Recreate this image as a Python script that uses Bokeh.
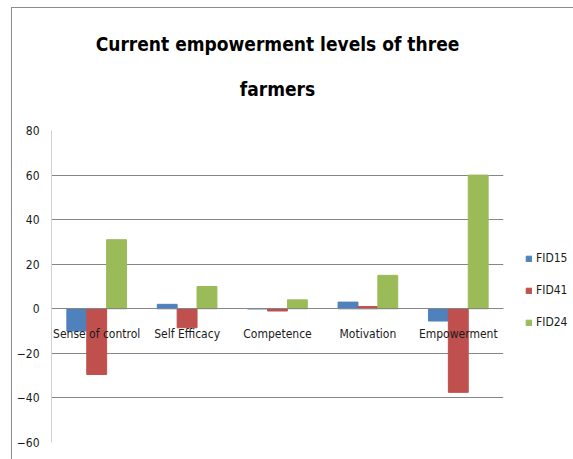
from bokeh.plotting import figure
from bokeh.models import FactorRange, Legend, LegendItem, Title, FixedTicker, ColumnDataSource
from bokeh.transform import dodge
from bokeh.embed import file_html
from bokeh.resources import INLINE

categories = ["Sense of control", "Self Efficacy", "Competence", "Motivation", "Empowerment"]
fid15 = [-10, 2, 0, 3, -5.5]
fid41 = [-29.5, -8.5, -1, 1, -37.5]
fid24 = [31, 10, 4, 15, 60]
series_names = ["FID15", "FID41", "FID24"]
series_colors = ["#4F81BD", "#C0504D", "#9BBB59"]
y_ticks = [-60, -40, -20, 0, 20, 40, 60, 80]
title_lines = ["Current empowerment levels of three", "farmers"]

FONT = "DejaVu Sans Condensed"

src = ColumnDataSource(dict(cat=categories, FID15=fid15, FID41=fid41, FID24=fid24))

p = figure(
    x_range=FactorRange(*categories, range_padding=0),
    y_range=(-60, 80),
    frame_width=452, frame_height=312,
    min_border_left=39, min_border_top=122, min_border_bottom=17, min_border_right=70,
    output_backend="svg", toolbar_location=None,
    title=None,
)
p.margin = (7, 0, 0, 11)
p.styles = {"border-top": "1px solid #8c8c8c", "border-left": "1px solid #8c8c8c"}

# first added = closest to the frame
for line, so in [(title_lines[1], 61), (title_lines[0], -19)]:
    p.add_layout(Title(
        text=line, align="center", standoff=so,
        text_font=FONT, text_font_size="19px", text_font_style="bold",
        text_color="#000000",
    ), "above")

offsets = [-0.22, 0.0, 0.22]
items = []
for name, col, off in zip(series_names, series_colors, offsets):
    r = p.vbar(x=dodge("cat", off, range=p.x_range), top=name, bottom=0, width=0.22,
               source=src, fill_color=col, line_color=col)
    items.append(LegendItem(label=name, renderers=[r]))

legend = Legend(
    items=items, location=(22, 113),
    glyph_width=7, glyph_height=7, label_standoff=4, spacing=18,
    label_text_font=FONT, label_text_font_size="12px", label_text_color="#1a1a1a",
    border_line_color=None, background_fill_alpha=0, padding=0, margin=0,
)
p.add_layout(legend, "right")

for ax in (p.xaxis, p.yaxis):
    ax.major_tick_line_color = None
    ax.minor_tick_line_color = None
    ax.major_tick_out = 0
    ax.major_tick_in = 0
    ax.minor_tick_out = 0
    ax.minor_tick_in = 0
    ax.major_label_text_font = FONT
    ax.major_label_text_font_size = "12px"
    ax.major_label_text_color = "#1a1a1a"

p.yaxis.ticker = FixedTicker(ticks=y_ticks)
p.yaxis.axis_line_color = "#d0d0d0"
p.yaxis.major_label_standoff = 12

p.xaxis.fixed_location = 0
p.xaxis.axis_line_color = "#868686"
p.xaxis.major_label_standoff = 18

p.xgrid.grid_line_color = None
p.ygrid.ticker = FixedTicker(ticks=y_ticks)
p.ygrid.grid_line_color = "#868686"
p.ygrid.grid_line_alpha = 1
p.outline_line_color = None

open("out.html", "w").write(file_html(p, INLINE))
